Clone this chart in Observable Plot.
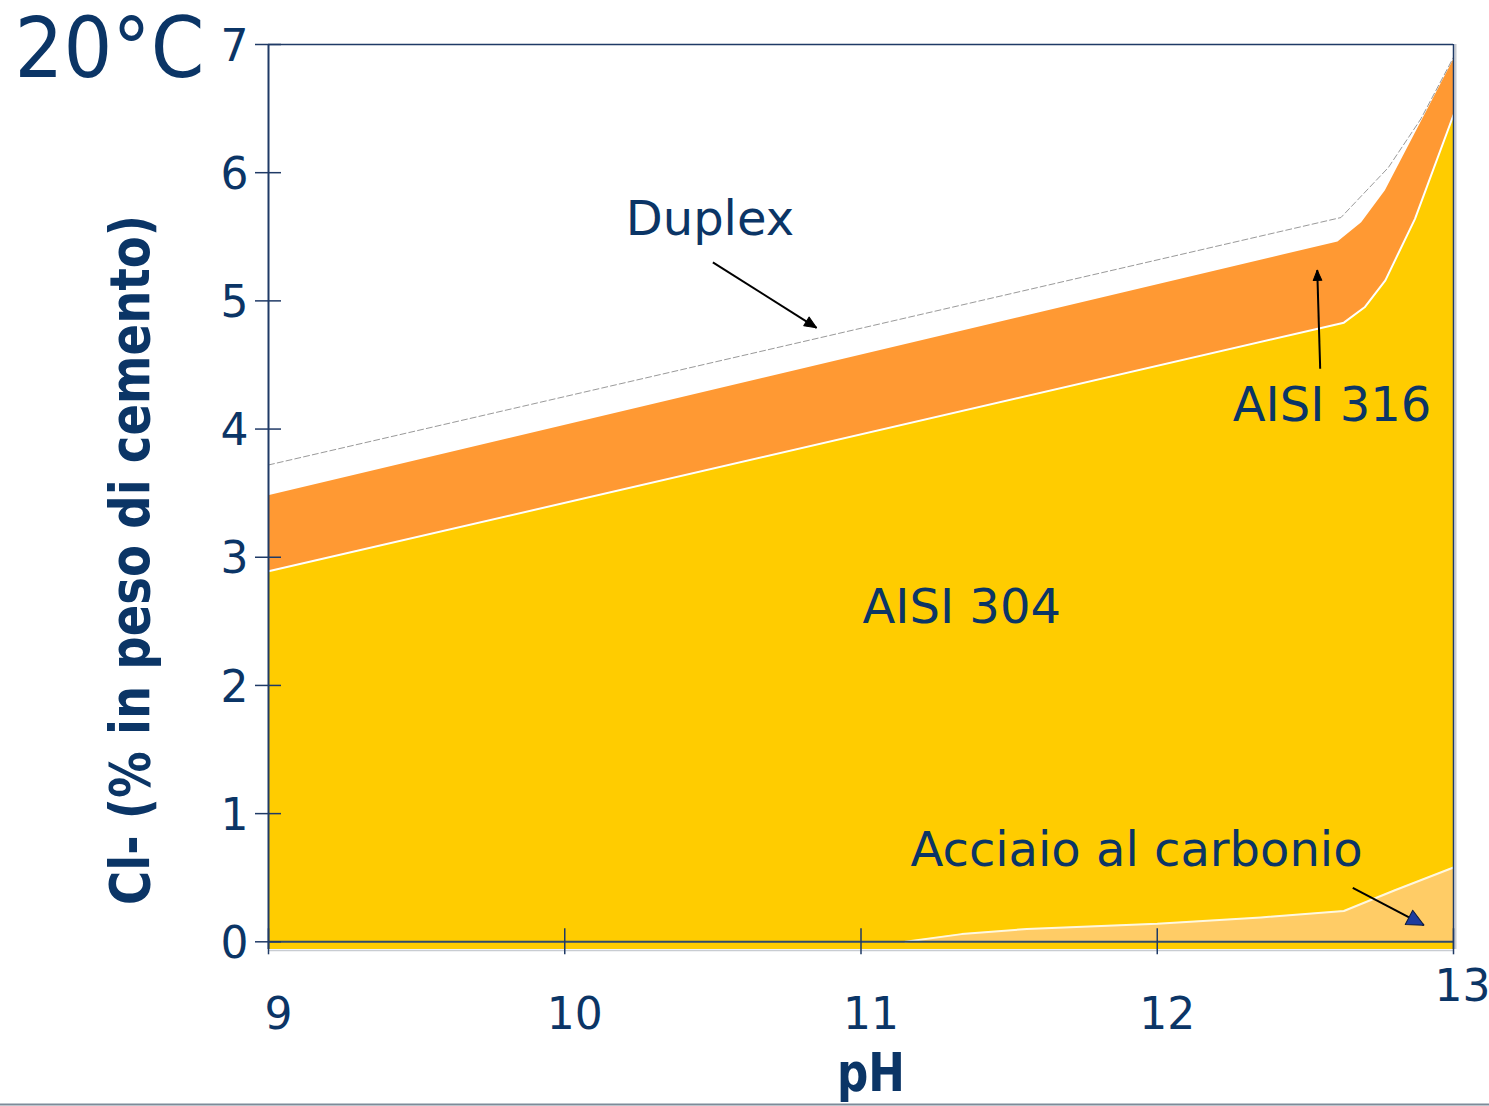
<!DOCTYPE html>
<html>
<head>
<meta charset="utf-8">
<script src="https://cdn.jsdelivr.net/npm/d3@7"></script>
<script src="https://cdn.jsdelivr.net/npm/@observablehq/plot@0.6"></script>
<style>
  html, body { margin: 0; padding: 0; background: #fff; }
  #chart svg { display: block; }
</style>
</head>
<body>
<div id="chart"></div>
<script>
// Axis ticks
const xTicks = [9, 10, 11, 12, 13];
const yTicks = [0, 1, 2, 3, 4, 5, 6, 7];

// Critical chloride content (% by cement weight) vs pH, per steel grade
const duplexPH = [9, 12.62, 12.78, 12.89, 13];
const duplexCl = [3.72, 5.65, 6.04, 6.42, 6.90];
const aisi316PH = [9, 12.61, 12.69, 12.77, 13];
const aisi316Cl = [3.48, 5.46, 5.61, 5.86, 6.88];
const aisi304PH = [9, 12.63, 12.70, 12.77, 12.87, 13];
const aisi304Cl = [2.89, 4.83, 4.95, 5.16, 5.64, 6.45];
const carbonPH = [11.15, 11.34, 11.56, 12.0, 12.35, 12.63, 12.80, 13];
const carbonCl = [0, 0.06, 0.10, 0.14, 0.19, 0.24, 0.40, 0.58];

// Region labels (anchored in pH / Cl units)
const labelText = ["Duplex", "AISI 316", "AISI 304", "Acciaio al carbonio"];
const labelPH = [10.49, 12.59, 11.34, 11.93];
const labelCl = [5.63, 4.18, 2.61, 0.71];

// Pointer arrows: tail -> tip
const arrowFromPH = [10.50, 12.55, 12.66];
const arrowFromCl = [5.30, 4.47, 0.42];
const arrowToPH = [10.85, 12.54, 12.90];
const arrowToCl = [4.79, 5.24, 0.13];

// Titles
const title = "20°C";
const yTitle = "Cl- (% in peso di cemento)";
const xTitle = "pH";

// ---- layout & styles ----
const W = 1489, H = 1106;
const M = {top: 44, right: 36, bottom: 157, left: 268};
const xDomain = [9, 13];
const yDomain = [-0.06, 7];
const navy = "#0b3566";
const axisColor = "#1f3a66";
const font = "'DejaVu Sans', Verdana, sans-serif";
const headStyle = [
  {len: 20, wing: 0.42, fill: "#000", stroke: "#000"},
  {len: 17, wing: 0.42, fill: "#000", stroke: "#000"},
  {len: 28, wing: 0.48, fill: "#1d3c9e", stroke: "#0a1a40"}
];

const series = (xs, ys) => xs.map((x, i) => ({x, y: ys[i]}));
const duplex = series(duplexPH, duplexCl);
const aisi316 = series(aisi316PH, aisi316Cl);
const aisi304 = series(aisi304PH, aisi304Cl);
const carbon = series(carbonPH, carbonCl);
const labels = labelText.map((t, i) => ({t, x: labelPH[i], y: labelCl[i]}));

// screen mapping used only to orient the arrowheads along each shaft
const sx = d3.scaleLinear(xDomain, [M.left, W - M.right]);
const sy = d3.scaleLinear(yDomain, [H - M.bottom, M.top]);
const arrows = arrowFromPH.map((x1, i) => {
  const a = {x1, y1: arrowFromCl[i], x2: arrowToPH[i], y2: arrowToCl[i], ...headStyle[i]};
  const dx = sx(a.x2) - sx(a.x1), dy = sy(a.y2) - sy(a.y1);
  a.angle = Math.atan2(dx, -dy) * 180 / Math.PI;
  return a;
});

// filled triangular arrowhead, one shape per wing ratio
const triangleHead = (wing) => ({
  draw(context, l) {
    const w = l * wing;
    context.moveTo(0, -l);
    context.lineTo(-w, 0);
    context.lineTo(w, 0);
    context.closePath();
  }
});

const base = yDomain[0];
const lastX = xTicks[xTicks.length - 1];

const chart = Plot.plot({
  width: W,
  height: H,
  marginTop: M.top,
  marginRight: M.right,
  marginBottom: M.bottom,
  marginLeft: M.left,
  x: {domain: xDomain, axis: null},
  y: {domain: yDomain, axis: null},
  style: {fontFamily: font, background: "#fff", overflow: "visible"},
  marks: [
    // filled regions
    Plot.areaY(aisi316, {x: "x", y1: base, y2: "y", fill: "#ff9933"}),
    Plot.areaY(aisi304, {x: "x", y1: base, y2: "y", fill: "#ffcc00"}),
    Plot.lineY(aisi304, {x: "x", y: "y", stroke: "#fff", strokeWidth: 2}),
    Plot.areaY(carbon, {x: "x", y1: 0, y2: "y", fill: "#ffcc66"}),
    Plot.lineY(carbon, {x: "x", y: "y", stroke: "#fff8e0", strokeWidth: 2}),
    Plot.lineY(duplex, {x: "x", y: "y", stroke: "#9a9a9a", strokeWidth: 1, strokeDasharray: "6,3"}),

    // frame lines
    Plot.ruleY([base], {x1: xDomain[0], x2: xDomain[1], stroke: "#c8ccd2", strokeWidth: 1.5, dy: 1}),
    Plot.ruleX([xDomain[1]], {y1: base, y2: yDomain[1], stroke: "#c8ccd2", strokeWidth: 2, dx: 2}),
    Plot.ruleX([xDomain[1]], {y1: base, y2: yDomain[1], stroke: axisColor, strokeWidth: 1.5}),
    Plot.ruleY([yDomain[1]], {x1: xDomain[0], x2: xDomain[1], stroke: axisColor, strokeWidth: 1.5}),
    Plot.ruleX([xDomain[0]], {y1: base, y2: yDomain[1], stroke: axisColor, strokeWidth: 2}),
    Plot.ruleY([0], {x1: xDomain[0], x2: xDomain[1], stroke: "#2f4a6c", strokeWidth: 2}),

    // tick marks crossing the axes
    Plot.ruleY(yTicks, {x1: xDomain[0], x2: xDomain[0], insetLeft: -13, insetRight: -13, stroke: axisColor, strokeWidth: 1.5}),
    Plot.ruleX(xTicks, {y1: 0, y2: 0, insetTop: -13, insetBottom: -13, stroke: axisColor, strokeWidth: 1.5}),

    // tick labels
    Plot.text(yTicks, {x: xDomain[0], y: d => d, text: d => String(d), textAnchor: "end", dx: -20, dy: 2,
      fontSize: 44, fill: navy}),
    Plot.text(xTicks.filter(d => d !== lastX), {x: d => d, y: 0, text: d => String(d), dx: 10, dy: 73,
      fontSize: 44, fill: navy}),
    Plot.text([lastX], {x: d => d, y: 0, text: d => String(d), dx: 9, dy: 45,
      fontSize: 44, fill: navy}),

    // region labels and pointers
    Plot.text(labels, {x: "x", y: "y", text: "t", fontSize: 48, fill: navy}),
    Plot.link(arrows, {x1: "x1", y1: "y1", x2: "x2", y2: "y2", stroke: "#000", strokeWidth: 2}),
    ...arrows.map(a => Plot.vector([a], {x: "x2", y: "y2", rotate: "angle", length: "len", anchor: "end",
      shape: triangleHead(a.wing), fill: a.fill, stroke: a.stroke, strokeWidth: 1})),

    // titles
    Plot.text([title], {frameAnchor: "top-left", textAnchor: "start", lineAnchor: "top", dx: -254, dy: -27,
      fontSize: 84, fill: navy}),
    Plot.text([yTitle], {frameAnchor: "left", textAnchor: "middle", lineAnchor: "middle", rotate: -90,
      dx: -137, dy: 63, fontSize: 56, fontWeight: "bold", fill: navy}),
    Plot.text([xTitle], {frameAnchor: "bottom", textAnchor: "middle", lineAnchor: "middle", dx: 10, dy: 124,
      fontSize: 54, fontWeight: "bold", fill: navy}),

    // slide footer line
    Plot.ruleY([base], {x1: xDomain[0], x2: xDomain[1], insetLeft: -M.left, insetRight: -M.right,
      dy: 155, stroke: "#7d8b99", strokeWidth: 2})
  ]
});

// narrow the wide DejaVu faces to the lengths of the printed titles
const fitLength = {[title]: 190, [yTitle]: 690, [xTitle]: 68};
d3.select(chart).selectAll("text").each(function() {
  const len = fitLength[this.textContent];
  if (len) d3.select(this).attr("textLength", len).attr("lengthAdjust", "spacingAndGlyphs");
});

document.getElementById("chart").appendChild(chart);
</script>
</body>
</html>
